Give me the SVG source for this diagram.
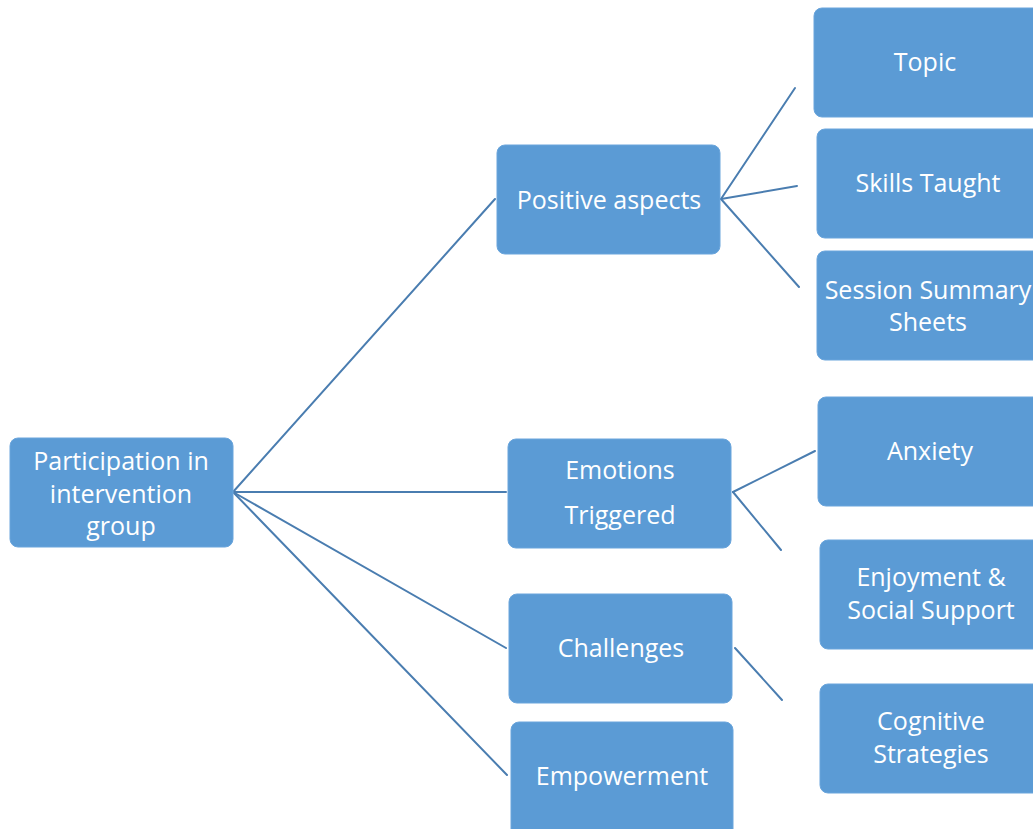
<svg xmlns="http://www.w3.org/2000/svg" width="1033" height="829" viewBox="0 0 1033 829">
  <style>
    .box { fill: #5b9bd5; stroke: #6aa5dc; stroke-width: 1; }
    .lbl { fill: #ffffff; font-family: "Open Sans", "Noto Sans", sans-serif; font-size: 25px; text-anchor: middle; }
    .link { stroke: #4a7db0; stroke-width: 2; fill: none; stroke-linecap: round; }
  </style>
  <rect width="1033" height="829" fill="#ffffff"/>

  <g id="connectors">
    <line class="link" x1="233" y1="492" x2="495" y2="199"/>
    <line class="link" x1="233" y1="492" x2="506" y2="492"/>
    <line class="link" x1="233" y1="492" x2="506" y2="648"/>
    <line class="link" x1="233" y1="492" x2="507" y2="775"/>
    <line class="link" x1="721" y1="199" x2="795" y2="88"/>
    <line class="link" x1="721" y1="199" x2="797" y2="186"/>
    <line class="link" x1="721" y1="199" x2="799" y2="287"/>
    <line class="link" x1="733" y1="492" x2="815" y2="451"/>
    <line class="link" x1="733" y1="492" x2="781" y2="550"/>
    <line class="link" x1="735" y1="648" x2="782" y2="700"/>
  </g>

  <g id="participation">
    <rect class="box" x="10" y="438" width="223" height="109" rx="8"/>
    <text class="lbl" x="121" y="470">Participation in</text>
    <text class="lbl" x="121" y="503">intervention</text>
    <text class="lbl" x="121" y="535">group</text>
  </g>

  <g id="positive-aspects">
    <rect class="box" x="497" y="145" width="223" height="109" rx="8"/>
    <text class="lbl" x="609" y="209">Positive aspects</text>
  </g>

  <g id="topic">
    <rect class="box" x="814" y="8" width="230" height="109" rx="8"/>
    <text class="lbl" x="925" y="71">Topic</text>
  </g>

  <g id="skills-taught">
    <rect class="box" x="817" y="129" width="230" height="109" rx="8"/>
    <text class="lbl" x="928" y="192">Skills Taught</text>
  </g>

  <g id="session-summary">
    <rect class="box" x="817" y="251" width="230" height="109" rx="8"/>
    <text class="lbl" x="928" y="299">Session Summary</text>
    <text class="lbl" x="928" y="331">Sheets</text>
  </g>

  <g id="emotions-triggered">
    <rect class="box" x="508" y="439" width="223" height="109" rx="8"/>
    <text class="lbl" x="620" y="479">Emotions</text>
    <text class="lbl" x="620" y="524">Triggered</text>
  </g>

  <g id="anxiety">
    <rect class="box" x="818" y="397" width="230" height="109" rx="8"/>
    <text class="lbl" x="930" y="460">Anxiety</text>
  </g>

  <g id="enjoyment">
    <rect class="box" x="820" y="540" width="230" height="109" rx="8"/>
    <text class="lbl" x="931" y="586">Enjoyment &amp;</text>
    <text class="lbl" x="931" y="619">Social Support</text>
  </g>

  <g id="challenges">
    <rect class="box" x="509" y="594" width="223" height="109" rx="8"/>
    <text class="lbl" x="621" y="657">Challenges</text>
  </g>

  <g id="empowerment">
    <rect class="box" x="511" y="722" width="222" height="118" rx="8"/>
    <text class="lbl" x="622" y="785">Empowerment</text>
  </g>

  <g id="cognitive-strategies">
    <rect class="box" x="820" y="684" width="230" height="109" rx="8"/>
    <text class="lbl" x="931" y="730">Cognitive</text>
    <text class="lbl" x="931" y="763">Strategies</text>
  </g>
</svg>
